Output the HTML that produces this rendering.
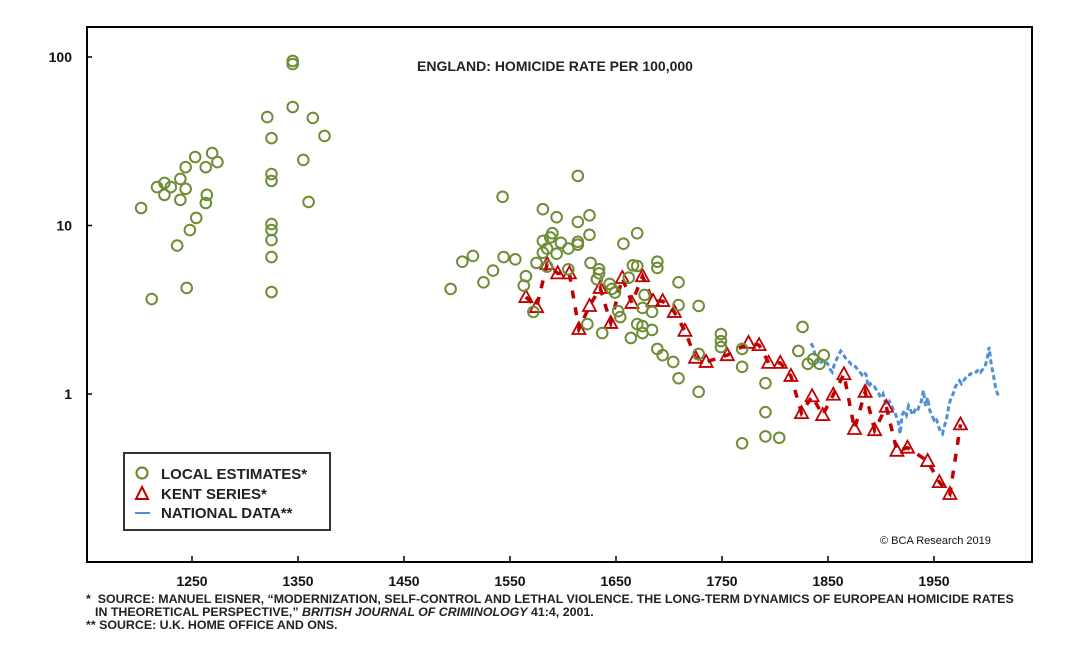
<!DOCTYPE html>
<html><head><meta charset="utf-8"><style>
body{margin:0;background:#fff;}
svg{display:block;font-family:"Liberation Sans",Arial,sans-serif;}
</style></head><body>
<svg id="chart" width="1080" height="664" viewBox="0 0 1080 664">
<rect x="0" y="0" width="1080" height="664" fill="#fff"/>
<rect x="87" y="27" width="945" height="535" fill="none" stroke="#000" stroke-width="2"/>
<text x="555" y="71" text-anchor="middle" font-size="14" font-weight="bold" fill="#222">ENGLAND: HOMICIDE RATE PER 100,000</text>
<g id="yaxis"></g>
<g id="xaxis"></g>
<g id="national"></g>
<g id="kent"></g>
<g id="local"></g>
<g>
<rect x="124" y="453" width="206" height="77" fill="#fff" stroke="#333" stroke-width="2"/>
<circle cx="142" cy="473" r="5.5" fill="none" stroke="#6e8d36" stroke-width="2.2"/>
<text x="161" y="479" font-size="15" font-weight="bold" fill="#222">LOCAL ESTIMATES*</text>
<path d="M142,487 L148,499 L136,499 Z" fill="none" stroke="#c00000" stroke-width="2"/>
<text x="161" y="499" font-size="15" font-weight="bold" fill="#222">KENT SERIES*</text>
<line x1="135" y1="513" x2="150" y2="513" stroke="#4f8fd8" stroke-width="2"/>
<text x="161" y="518" font-size="15" font-weight="bold" fill="#222">NATIONAL DATA**</text>
</g>
<text x="880" y="544" font-size="11" fill="#111">© BCA Research 2019</text>
<g font-size="12.4" font-weight="bold" fill="#222">
<text x="86" y="603">*&#160; SOURCE: MANUEL EISNER, “MODERNIZATION, SELF-CONTROL AND LETHAL VIOLENCE. THE LONG-TERM DYNAMICS OF EUROPEAN HOMICIDE RATES</text>
<text x="95" y="616">IN THEORETICAL PERSPECTIVE,” <tspan font-style="italic">BRITISH JOURNAL OF CRIMINOLOGY</tspan> 41:4, 2001.</text>
<text x="86" y="629">** SOURCE: U.K. HOME OFFICE AND ONS.</text>
</g>
</svg>
<script>
const xTicks=[1250,1350,1450,1550,1650,1750,1850,1950];
const yTicks=[1,10,100];
const yTickLabels=["1","10","100"];
const localYears=[1345,1345,1345,1321,1364,1375,1325,1355,1253,1269,1274,1263,1244,1239,1325,1325,1224,1217,1230,1244,1224,1239,1264,1263,1202,1360,1254,1248,1236,1325,1325,1325,1325,1245,1212,1325,
1614,1543,1581,1594,1614,1625,1590,1588,1581,1598,1614,1614,1625,1657,1670,1585,1605,1594,1581,1515,1505,1544,1555,1575,1534,1585,1605,1626,1634,1565,1563,1525,1494,1634,1632,1644,1646,1649,1662,1666,1670,1572,1652,1654,1623,1637,1670,1664,
1689,1689,1709,1677,1675,1684,1709,1728,1675,1675,1684,1689,1694,1704,1709,1728,1728,1749,1749,1749,1769,1769,1791,1791,1769,1791,1804,1826,1822,1831,1836,1842,1846];
const localValues=[94.7,90.8,50.5,44.0,43.5,34,33,24.5,25.5,26.9,23.8,22.2,22.2,18.9,20.2,18.4,17.9,16.9,16.9,16.5,15.2,14.2,15.2,13.6,12.7,13.8,11.1,9.4,7.6,10.2,9.4,8.2,6.5,4.26,3.66,4.03,
19.7,14.8,12.5,11.2,10.5,11.5,9.0,8.5,8.1,7.9,8.0,7.7,8.8,7.8,9.0,7.3,7.3,6.8,6.9,6.6,6.1,6.5,6.3,6.0,5.4,5.7,5.5,6.0,5.5,5.0,4.4,4.6,4.2,5.2,4.8,4.5,4.2,4.0,4.9,5.8,5.75,3.07,3.1,2.86,2.6,2.3,2.6,2.15,
6.1,5.6,4.6,3.87,3.24,3.07,3.37,3.33,2.53,2.3,2.4,1.85,1.70,1.55,1.24,1.03,1.73,2.27,2.06,1.90,1.85,1.45,1.16,0.78,0.51,0.56,0.55,2.5,1.8,1.51,1.61,1.51,1.70];
const kentYears=[1565,1575,1585,1595,1606,1615,1625,1635,1645,1656,1665,1675,1685,1694,1705,1715,1725,1735,1755,1775,1785,1794,1805,1815,1825,1835,1845,1855,1865,1875,1885,1894,1905,1915,1925,1944,1955,1965,1975];
const kentValues=[3.76,3.28,5.9,5.2,5.2,2.43,3.33,4.26,2.64,4.88,3.47,5.0,3.56,3.56,3.07,2.37,1.64,1.55,1.70,2.01,1.95,1.53,1.53,1.28,0.77,0.97,0.75,0.99,1.31,0.62,1.03,0.61,0.84,0.46,0.48,0.40,0.30,0.255,0.66];
const nationalYears=[1834,1836,1838,1840,1842,1844,1846,1848,1850,1852,1854,1856,1858,1860,1862,1864,1866,1868,1870,1872,1874,1876,1878,1880,1882,1884,1886,1888,1890,1892,1894,1896,1898,1900,1902,1904,1906,1908,1910,1912,1914,1916,1918,1920,1922,1924,1926,1928,1930,1932,1934,1936,1938,1940,1942,1944,1946,1948,1950,1952,1954,1956,1958,1960,1962,1964,1966,1968,1970,1972,1974,1976,1978,1980,1982,1984,1986,1988,1990,1992,1994,1996,1998,2000,2002,2004,2006,2008,2010,2012];
const nationalValues=[2.0,1.9,1.7,1.6,1.5,1.55,1.6,1.55,1.5,1.4,1.35,1.5,1.6,1.7,1.8,1.75,1.65,1.6,1.55,1.5,1.5,1.45,1.4,1.35,1.3,1.35,1.3,1.1,1.15,1.1,1.1,1.05,1.0,0.95,1.0,0.9,0.85,0.9,0.85,0.8,0.75,0.7,0.58,0.75,0.8,0.75,0.85,0.8,0.75,0.8,0.78,0.85,0.9,1.05,0.85,0.95,0.8,0.75,0.7,0.72,0.65,0.6,0.58,0.65,0.72,0.85,0.95,1.0,1.1,1.15,1.2,1.15,1.2,1.25,1.3,1.3,1.35,1.35,1.35,1.4,1.35,1.4,1.45,1.6,1.9,1.5,1.3,1.1,1.0,0.95];

const NS='http://www.w3.org/2000/svg';
function xs(yr){return 192+(yr-1250)*1.06;}
function ys(v){return 394-Math.log10(v)*168.5;}
function mk(tag,attrs,parent){const e=document.createElementNS(NS,tag);for(const k in attrs)e.setAttribute(k,attrs[k]);parent.appendChild(e);return e;}

const yg=document.getElementById('yaxis');
yTicks.forEach((t,i)=>{
  const l=mk('line',{x1:87,x2:92,y1:ys(t),y2:ys(t),stroke:'#000','stroke-width':1.5},yg);
  
  
  const tx=mk('text',{x:72,y:ys(t)+5,'text-anchor':'end','font-size':14,'font-weight':'bold',fill:'#111'},yg);
  tx.textContent=yTickLabels[i];
  
  
});
const xg=document.getElementById('xaxis');
xTicks.forEach(t=>{
  const l=mk('line',{x1:xs(t),x2:xs(t),y1:556,y2:562,stroke:'#000','stroke-width':1.5},xg);
  
  
  const tx=mk('text',{x:xs(t),y:586,'text-anchor':'middle','font-size':14,'font-weight':'bold',fill:'#111'},xg);
  tx.textContent=String(t);
  
  
});

const ng=document.getElementById('national');
const np=mk('polyline',{points:nationalYears.map((y,i)=>xs(y)+','+ys(nationalValues[i])).join(' '),fill:'none',stroke:'#4f8fd8','stroke-width':3,'stroke-dasharray':'5 3'},ng);



const kg=document.getElementById('kent');
const kp=mk('polyline',{points:kentYears.map((y,i)=>xs(y)+','+ys(kentValues[i])).join(' '),fill:'none',stroke:'#c00000','stroke-width':3.5,'stroke-dasharray':'8 9'},kg);


kentYears.forEach((y,i)=>{
  const cx=xs(y),cy=ys(kentValues[i]);
  const t=mk('path',{d:`M${cx},${cy-7} L${cx+6.5},${cy+5} L${cx-6.5},${cy+5} Z`,fill:'#fff','fill-opacity':0,stroke:'#c00000','stroke-width':1.8},kg);
  
  
});

const lg=document.getElementById('local');
localYears.forEach((y,i)=>{
  const c=mk('circle',{cx:xs(y),cy:ys(localValues[i]),r:5.3,fill:'none',stroke:'#6e8d36','stroke-width':2},lg);
  
  
});
</script>
</body></html>
